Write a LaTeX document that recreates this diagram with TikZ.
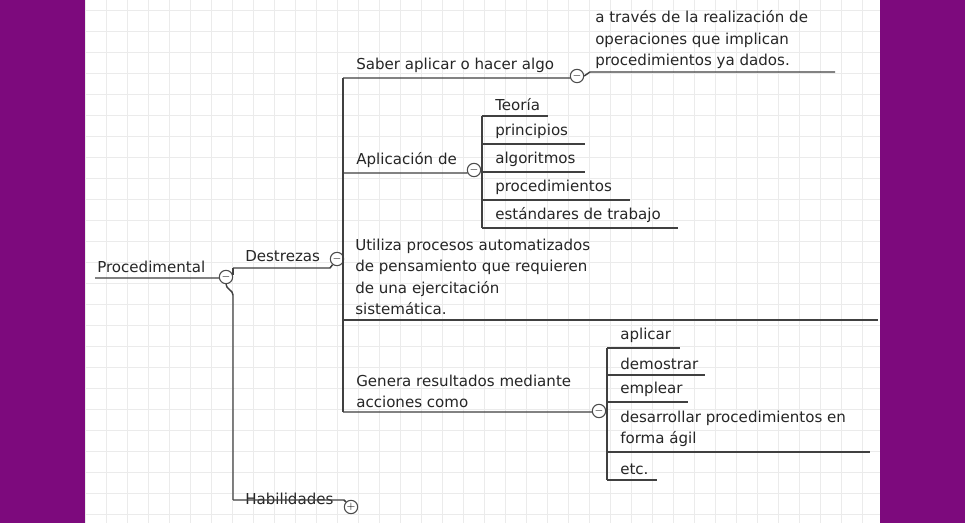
\documentclass[tikz,border=0pt]{standalone}
\usepackage{fontspec}
\setmainfont{DejaVu Sans}
\definecolor{bord}{RGB}{125,10,125}
\begin{document}
\begin{tikzpicture}[x=0.75pt,y=-0.75pt,
  lbl/.style={anchor=south west,inner sep=0pt,font=\fontsize{11.3}{16}\selectfont,align=left,text=black!85},
  ln/.style={draw=black!75,line width=1.1pt},
  tog/.style={circle,draw=black!70,fill=white,line width=0.8pt,minimum size=10pt,inner sep=0pt,font=\fontsize{8}{8}\selectfont}]
\useasboundingbox (0,0) rectangle (965,523);
\fill[bord] (0,0) rectangle (965,523);
\fill[white] (85,0) rectangle (880,523);
\foreach \x in {85,106,...,880} \draw[black!8] (\x,0)--(\x,523);
\foreach \y in {10,31,...,523} \draw[black!8] (85,\y)--(880,\y);
% root
\node[lbl] (proc) at (97,273) {Procedimental};
\coordinate (pu) at (95,278);
\node[tog] (c1) at (226,277) {$-$};
\draw[ln] (pu) -- (c1.west|-pu) -- (c1);
\draw[ln] (c1.south) to[out=-90,in=90] (233,295) -- (233,500);
\draw[ln] (233,275) -- (233,268);
\node[lbl] (dest) at (245,262) {Destrezas};
\node[tog] (c2) at (337,259) {$-$};
\draw[ln] (233,268) -- (330,268) -- (c2);
\node[lbl] (hab) at (245,505) {Habilidades};
\node[tog] (c3) at (351,507) {$+$};
\draw[ln] (233,500) -- (344,500) -- (c3);
% Destrezas branch
\draw[ln] (343,259) -- (343,78);
\draw[ln] (343,259) -- (343,412);
\node[lbl] (saber) at (356,73) {Saber aplicar o hacer algo};
\node[tog] (c4) at (577,76) {$-$};
\draw[ln] (343,78) -- (570,78) -- (c4);
\node[lbl] (atr) at (595,69) {a través de la realización de\\operaciones que implican\\procedimientos ya dados.};
\draw[ln] (c4.east) -- (590,72) -- (835,72);
\node[lbl] (apl) at (356,168) {Aplicación de};
\node[tog] (c5) at (474,170) {$-$};
\draw[ln] (343,173) -- (467,173) -- (c5);
\draw[ln] (c5.east) -- (482,170);
\draw[ln] (482,116) -- (482,228);
\node[lbl] (teo) at (495,111) {Teoría}; \draw[ln] (482,116) -- (548,116);
\node[lbl] (pri) at (495,139) {principios}; \draw[ln] (482,144) -- (585,144);
\node[lbl] (alg) at (495,167) {algoritmos}; \draw[ln] (482,172) -- (585,172);
\node[lbl] (pro) at (495,195) {procedimientos}; \draw[ln] (482,200) -- (630,200);
\node[lbl] (est) at (495,223) {estándares de trabajo}; \draw[ln] (482,228) -- (678,228);
\node[lbl] (uti) at (355,315) {Utiliza procesos automatizados\\de pensamiento que requieren\\de una ejercitación\\sistemática.};
\draw[ln] (343,320) -- (878,320);
\node[lbl] (gen) at (356,408) {Genera resultados mediante\\acciones como};
\node[tog] (c6) at (599,411) {$-$};
\draw[ln] (343,412) -- (592,412) -- (c6);
\draw[ln] (c6.east) -- (607,411);
\draw[ln] (607,348) -- (607,480);
\node[lbl] (ap) at (620,343) {aplicar}; \draw[ln] (607,348) -- (680,348);
\node[lbl] (dem) at (620,370) {demostrar}; \draw[ln] (607,375) -- (705,375);
\node[lbl] (emp) at (620,397) {emplear}; \draw[ln] (607,402) -- (688,402);
\node[lbl] (des) at (620,447) {desarrollar procedimientos en\\forma ágil}; \draw[ln] (607,452) -- (870,452);
\node[lbl] (etc) at (620,475) {etc.}; \draw[ln] (607,480) -- (657,480);
\end{tikzpicture}
\end{document}
